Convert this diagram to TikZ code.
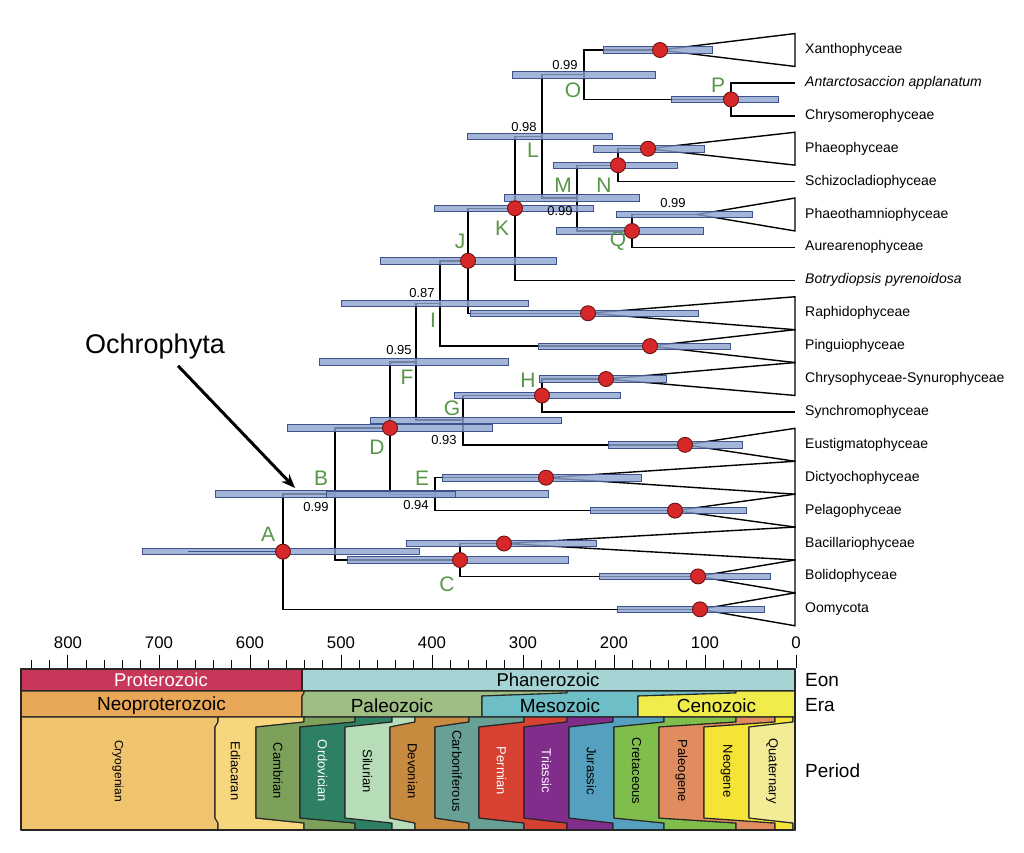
\documentclass[tikz,border=0pt]{standalone}
\usepackage{fontspec}
\setmainfont{Liberation Sans}
\usetikzlibrary{arrows.meta}
\definecolor{barfill}{RGB}{140,162,206}
\definecolor{barline}{RGB}{62,82,140}
\definecolor{nodered}{RGB}{214,40,40}
\definecolor{dotline}{RGB}{110,20,20}
\definecolor{labgreen}{RGB}{88,150,72}
\definecolor{prot}{RGB}{200,55,90}
\definecolor{phan}{RGB}{165,212,212}
\definecolor{neop}{RGB}{233,168,88}
\definecolor{paleoz}{RGB}{158,190,132}
\definecolor{mesoz}{RGB}{110,190,200}
\definecolor{cenoz}{RGB}{240,236,75}
\definecolor{cryo}{RGB}{240,196,110}
\definecolor{edia}{RGB}{247,214,125}
\definecolor{camb}{RGB}{125,160,90}
\definecolor{ordo}{RGB}{45,128,100}
\definecolor{silu}{RGB}{182,220,184}
\definecolor{devo}{RGB}{200,138,62}
\definecolor{carb}{RGB}{105,160,150}
\definecolor{perm}{RGB}{215,65,50}
\definecolor{tria}{RGB}{128,45,140}
\definecolor{jura}{RGB}{85,160,190}
\definecolor{cret}{RGB}{128,190,75}
\definecolor{pale}{RGB}{225,140,95}
\definecolor{neog}{RGB}{245,228,55}
\definecolor{quat}{RGB}{242,236,150}
\newcommand\fsz[1]{\fontsize{#1}{#1}\selectfont}
\begin{document}
\begin{tikzpicture}[x=1pt,y=-1pt,
    branch/.style={line width=1.4pt},
    hpd/.style={fill=barfill,fill opacity=0.8,draw=barline,line width=0.8pt},
    dot/.style={circle,fill=nodered,draw=dotline,line width=0.9pt,minimum size=15pt,inner sep=0pt},
    taxon/.style={anchor=west,inner xsep=10pt,inner ysep=0pt,text height=10pt,text depth=3pt,font=\fsz{14}},
    letter/.style={text=labgreen,font=\fsz{21},inner sep=0pt},
    pp/.style={font=\fsz{13},inner sep=0pt},
    slab/.style={draw=black!85,line width=1.1pt,line join=round}]
  \useasboundingbox (0,0) rectangle (1024,852);

  \node[taxon] (tXan) at (795,50) {Xanthophyceae};
  \node[taxon] (tAnt) at (795,82.9) {\itshape Antarctosaccion applanatum};
  \node[taxon] (tChm) at (795,115.8) {Chrysomerophyceae};
  \node[taxon] (tPha) at (795,148.7) {Phaeophyceae};
  \node[taxon] (tSch) at (795,181.6) {Schizocladiophyceae};
  \node[taxon] (tPht) at (795,214.5) {Phaeothamniophyceae};
  \node[taxon] (tAur) at (795,247.4) {Aurearenophyceae};
  \node[taxon] (tBot) at (795,280.3) {\itshape Botrydiopsis pyrenoidosa};
  \node[taxon] (tRap) at (795,313.2) {Raphidophyceae};
  \node[taxon] (tPin) at (795,346.1) {Pinguiophyceae};
  \node[taxon] (tChr) at (795,379) {Chrysophyceae-Synurophyceae};
  \node[taxon] (tSyn) at (795,411.9) {Synchromophyceae};
  \node[taxon] (tEus) at (795,444.8) {Eustigmatophyceae};
  \node[taxon] (tDic) at (795,477.7) {Dictyochophyceae};
  \node[taxon] (tPel) at (795,510.6) {Pelagophyceae};
  \node[taxon] (tBac) at (795,543.5) {Bacillariophyceae};
  \node[taxon] (tBol) at (795,576.4) {Bolidophyceae};
  \node[taxon] (tOom) at (795,609.3) {Oomycota};

  \coordinate (nA) at (283,551.6);
  \coordinate (nB) at (335,494);
  \coordinate (nC) at (460,560);
  \coordinate (nD) at (390,428);
  \coordinate (nE) at (435,494.2);
  \coordinate (nF) at (416,361.8);
  \coordinate (nG) at (463,420.1);
  \coordinate (nH) at (542,395.5);
  \coordinate (nI) at (440,303.4);
  \coordinate (nJ) at (468,260.8);
  \coordinate (nK) at (515,208.3);
  \coordinate (nL) at (542,136.4);
  \coordinate (nM) at (577,198);
  \coordinate (nN) at (618,165.2);
  \coordinate (nO) at (584,74.7);
  \coordinate (nP) at (731,99.4);
  \coordinate (nQ) at (632,231);

  \coordinate (cXan) at (660,50);
  \coordinate (cPha) at (648,148.7);
  \coordinate (cPht) at (697,214.5);
  \coordinate (cRap) at (588,313.2);
  \coordinate (cPin) at (650,346.1);
  \coordinate (cChr) at (606,379);
  \coordinate (cEus) at (685,444.8);
  \coordinate (cDic) at (546,477.7);
  \coordinate (cPel) at (675,510.6);
  \coordinate (cBac) at (504,543.5);
  \coordinate (cBol) at (698,576.4);
  \coordinate (cOom) at (700,609.3);

  \begin{scope}[branch]
    \draw (nA) |- (nB);
    \draw (nA) |- (cOom);
    \draw (nB) |- (nD);
    \draw (nB) |- (nC);
    \draw (nC) |- (cBac);
    \draw (nC) |- (cBol);
    \draw (nD) |- (nF);
    \draw (nD) |- (nE);
    \draw (nE) |- (cDic);
    \draw (nE) |- (cPel);
    \draw (nF) |- (nI);
    \draw (nF) |- (nG);
    \draw (nG) |- (nH);
    \draw (nG) |- (cEus);
    \draw (nH) |- (cChr);
    \draw (nH) |- (tSyn);
    \draw (nI) |- (nJ);
    \draw (nI) |- (cPin);
    \draw (nJ) |- (nK);
    \draw (nJ) |- (cRap);
    \draw (nK) |- (nL);
    \draw (nK) |- (tBot);
    \draw (nL) |- (nO);
    \draw (nL) |- (nM);
    \draw (nO) |- (cXan);
    \draw (nO) |- (nP);
    \draw (nP) |- (tAnt);
    \draw (nP) |- (tChm);
    \draw (nM) |- (nN);
    \draw (nM) |- (nQ);
    \draw (nN) |- (cPha);
    \draw (nN) |- (tSch);
    \draw (nQ) |- (cPht);
    \draw (nQ) |- (tAur);
    \foreach \c/\y in {Xan/50,Pha/148.7,Pht/214.5,Rap/313.2,Pin/346.1,Chr/379,
        Eus/444.8,Dic/477.7,Pel/510.6,Bac/543.5,Bol/576.4,Oom/609.3}
      \draw[line join=miter] (c\c) -- (795,\y-16.45) -- (795,\y+16.45) -- cycle;
  \end{scope}

  \foreach \y/\a/\b in {551.6/142/419,494/215/548,494.2/326/455,560/347/568,
      428/287/492,361.8/319/508,420.1/370/561,395.5/454/620,303.4/341/528,
      260.8/380/556,208.3/434/593,136.4/467/612,198/504/639,165.2/553/677,
      74.7/512/655,99.4/671/778,231/556/703,50/603/712,148.7/593/704,
      214.5/616/752,313.2/470/698,346.1/538/730,379/539/666,444.8/608/742,
      477.7/442/641,510.6/590/746,543.5/406/596,576.4/599/770,609.3/617/764}
    \draw[hpd] (\a,\y-3.2) rectangle (\b,\y+3.2);
  \draw[barline,line width=1.2pt] (188,551.6) -- (283,551.6);

  \foreach \n in {A,C,D,H,J,K,N,P,Q}
    \node[dot] (d\n) at (n\n) {};
  \foreach \c in {Xan,Pha,Rap,Pin,Chr,Eus,Dic,Pel,Bac,Bol,Oom}
    \node[dot] (d\c) at (c\c) {};

  \node[letter] (lA) at (268,534) {A};
  \node[letter] (lB) at (321,478) {B};
  \node[letter] (lC) at (447,584) {C};
  \node[letter] (lD) at (377,447) {D};
  \node[letter] (lE) at (422,478) {E};
  \node[letter] (lF) at (407,377) {F};
  \node[letter] (lG) at (452,408) {G};
  \node[letter] (lH) at (528,380) {H};
  \node[letter] (lI) at (433,320) {I};
  \node[letter] (lJ) at (460,241) {J};
  \node[letter] (lK) at (502,228) {K};
  \node[letter] (lL) at (533,150) {L};
  \node[letter] (lM) at (563,185) {M};
  \node[letter] (lN) at (604,185) {N};
  \node[letter] (lO) at (573,90) {O};
  \node[letter] (lP) at (718,85) {P};
  \node[letter] (lQ) at (618,241) {Q};

  \node[pp] (sO) at (565,65) {0.99};
  \node[pp] (sL) at (524,127) {0.98};
  \node[pp] (sM) at (560,211) {0.99};
  \node[pp] (sPht) at (673,203) {0.99};
  \node[pp] (sI) at (422,293) {0.87};
  \node[pp] (sF) at (399,350) {0.95};
  \node[pp] (sG) at (444,440) {0.93};
  \node[pp] (sB) at (316,507) {0.99};
  \node[pp] (sE) at (416,505) {0.94};

  \node[font=\fsz{27},inner sep=0pt] (ochro) at (155,347) {Ochrophyta};
  \coordinate (ochroTip) at (295,488);
  \draw[line width=3pt,-{Stealth[length=14pt,width=11pt]}] ([xshift=23pt,yshift=-6pt]ochro.south) -- (ochroTip);

  \foreach \t in {0,20,...,840}
    \draw[line width=1pt] (796-0.91*\t,668) -- ++(0,-8);
  \foreach \t in {0,100,...,800} {
    \draw[line width=1pt] (796-0.91*\t,668) -- ++(0,-13);
    \node[font=\fsz{16.8},inner sep=0pt] (ax\t) at (796-0.91*\t,643) {\t};
  }

  \filldraw[fill=prot,slab] (21,669) rectangle (302,691);
  \filldraw[fill=phan,slab] (302,669) rectangle (795,691);
  \node[font=\fsz{18.5},text=white] (eProt) at (161,680) {Proterozoic};
  \node[font=\fsz{18.5}] (ePhan) at (548,680) {Phanerozoic};

  \foreach \xa/\xb/\xc/\xd/\col/\name in {21/304/21/302/neop/Neoproterozoic,
      304/567/302/482/paleoz/Paleozoic,567/736/482/638/mesoz/Mesozoic,
      736/795/638/795/cenoz/Cenozoic} {
    \filldraw[fill=\col,slab] (\xa,691) -- (\xb,691) -- (\xb,693) -- (\xd,696) -- (\xd,717)
      -- (\xc,717) -- (\xc,696) -- (\xa,693) -- cycle;
    \node[font=\fsz{19}] (era\name) at ({(\xc+\xd)/2},706) {\name};
  }

  \foreach \xa/\xb/\xc/\xd/\col/\tc/\fs/\name in {21/218/21/215/cryo/black/12/Cryogenian,
      218/304/215/256/edia/black/13/Ediacaran,304/355/256/300/camb/black/13/Cambrian,
      355/392/300/345/ordo/white/13/Ordovician,392/415/345/390/silu/black/13/Silurian,
      415/469/390/435/devo/black/13/Devonian,469/524/435/479/carb/black/13/Carboniferous,
      524/567/479/524/perm/white/13/Permian,567/613/524/569/tria/white/13/Triassic,
      613/664/569/614/jura/black/13/Jurassic,664/736/614/659/cret/black/13/Cretaceous,
      736/775/659/704/pale/black/13/Paleogene,775/793/704/749/neog/black/13/Neogene,
      793/795/749/795/quat/black/13/Quaternary} {
    \filldraw[fill=\col,slab] (\xa,717) -- (\xb,717) -- (\xb,722) -- (\xd,727) -- (\xd,818)
      -- (\xb,823) -- (\xb,830) -- (\xa,830) -- (\xa,823) -- (\xc,818) -- (\xc,727)
      -- (\xa,722) -- cycle;
    \node[rotate=-90,font=\fsz{\fs},text=\tc] (per\name) at ({(\xc+\xd)/2},771) {\name};
  }
  \draw[slab] (21,669) rectangle (795,830);

  \node[anchor=west,font=\fsz{19},inner sep=0pt] (rEon) at (805,680) {Eon};
  \node[anchor=west,font=\fsz{19},inner sep=0pt] (rEra) at (805,705) {Era};
  \node[anchor=west,font=\fsz{19},inner sep=0pt] (rPer) at (805,771) {Period};
\end{tikzpicture}
\end{document}
